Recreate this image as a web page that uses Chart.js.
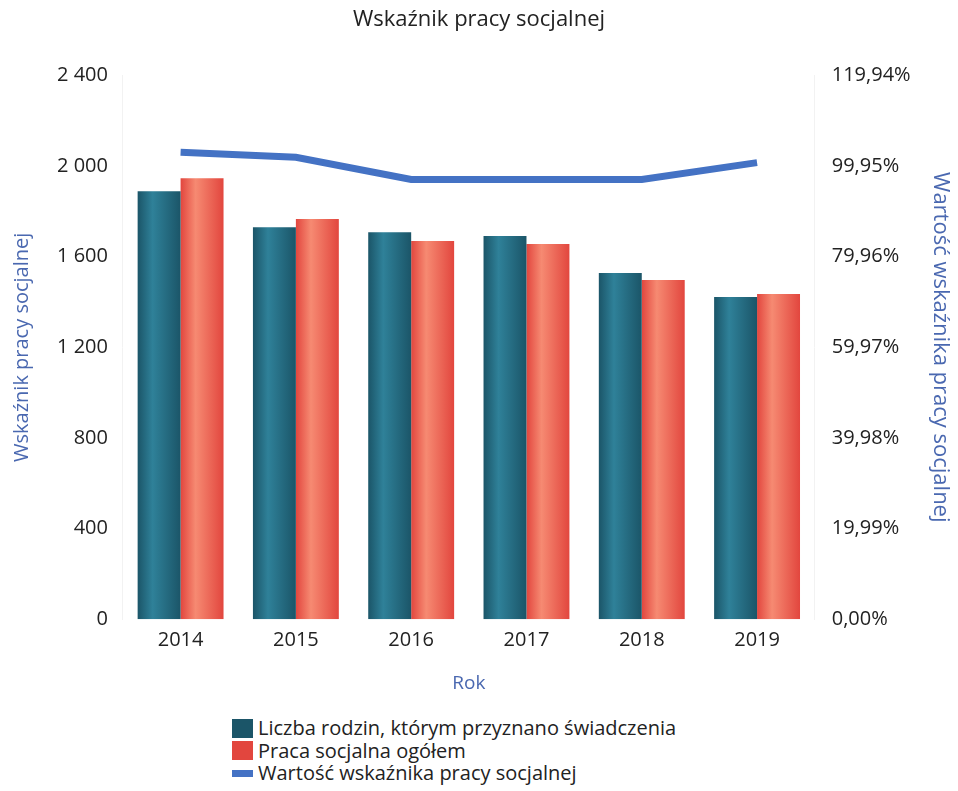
<!DOCTYPE html>
<html>
<head>
<meta charset="utf-8">
<script src="https://cdn.jsdelivr.net/npm/chart.js@4"></script>
<style>
  body { margin: 0; background: #fff; font-family: "Open Sans", sans-serif; }
  #wrap { width: 958px; height: 700px; }
  #legend { margin-left: 232px; margin-top: 17px; font-size: 20px; color: #222; line-height: 22.5px; }
  #legend div { display: flex; align-items: center; }
  #legend span.box { display: inline-block; width: 21px; margin-right: 5px; }
</style>
</head>
<body>
<div id="wrap"><canvas id="chart"></canvas></div>
<div id="legend"></div>
<script>
const years = ["2014", "2015", "2016", "2017", "2018", "2019"];
const rodziny = [1889, 1730, 1708, 1691, 1528, 1422];
const pracaSocjalna = [1946, 1766, 1669, 1656, 1497, 1435];
const wskaznik = [103.0, 101.9, 97.0, 97.0, 97.0, 100.7];

const teal = ["#1b5568", "#2f8199", "#1b5568"];
const red = ["#e2463e", "#f68a72", "#e2463e"];

// cylinder-ish shading on each bar
const barShade = {
  id: "barShade",
  beforeDatasetsDraw(chart) {
    const ctx = chart.ctx;
    chart.data.datasets.forEach((ds, i) => {
      if (ds.type !== "bar") return;
      const meta = chart.getDatasetMeta(i);
      meta.data.forEach((bar) => {
        const x0 = bar.x - bar.width / 2;
        const g = ctx.createLinearGradient(x0, 0, x0 + bar.width, 0);
        g.addColorStop(0, ds.shade[0]);
        g.addColorStop(0.35, ds.shade[1]);
        g.addColorStop(1, ds.shade[2]);
        bar.options = Object.assign({}, bar.options, { backgroundColor: g });
      });
    });
  },
};

const chart = new Chart(document.getElementById("chart"), {
  data: {
    labels: years,
    datasets: [
      {
        type: "line",
        label: "Wartość wskaźnika pracy socjalnej",
        data: wskaznik,
        yAxisID: "y1",
        borderColor: "#4472c4",
        backgroundColor: "#4472c4",
        borderWidth: 7,
        pointRadius: 0,
        tension: 0,
        order: 0,
      },
      {
        type: "bar",
        label: "Liczba rodzin, którym przyznano świadczenia",
        data: rodziny,
        yAxisID: "y",
        backgroundColor: teal[0],
        shade: teal,
        categoryPercentage: 0.745,
        barPercentage: 1,
        order: 1,
      },
      {
        type: "bar",
        label: "Praca socjalna ogółem",
        data: pracaSocjalna,
        yAxisID: "y",
        backgroundColor: red[0],
        shade: red,
        categoryPercentage: 0.745,
        barPercentage: 1,
        order: 1,
      },
    ],
  },
  options: {
    responsive: true,
    maintainAspectRatio: false,
    animation: false,
    layout: { padding: { left: 0, right: 0, top: 0, bottom: 5 } },
    plugins: {
      legend: { display: false },
      tooltip: { enabled: false },
      title: {
        display: true,
        text: "Wskaźnik pracy socjalnej",
        color: "#222",
        font: { family: "Open Sans", size: 22, weight: "normal" },
        padding: { top: 7, bottom: 42 },
      },
    },
    scales: {
      x: {
        grid: { display: false },
        border: { display: false },
        ticks: { color: "#222", font: { family: "Open Sans", size: 20 }, padding: 1 },
        title: {
          display: true,
          text: "Rok",
          color: "#4a68b0",
          font: { family: "Open Sans", size: 19 },
          padding: { top: 19, bottom: 0 },
        },
      },
      y: {
        position: "left",
        min: 0,
        max: 2400,
        grid: { display: false },
        border: { color: "#f2f2f2" },
        ticks: {
          stepSize: 400,
          color: "#222",
          padding: 7,
          font: { family: "Open Sans", size: 20 },
          callback: (v) => String(v).replace(/\B(?=(\d{3})+(?!\d))/g, " "),
        },
        title: {
          display: true,
          text: "Wskaźnik pracy socjalnej",
          color: "#4a68b0",
          font: { family: "Open Sans", size: 20 },
          padding: { top: 10, bottom: 16 },
        },
      },
      y1: {
        position: "right",
        min: 0,
        max: 119.94,
        grid: { display: false },
        border: { color: "#f2f2f2" },
        ticks: {
          stepSize: 19.99,
          color: "#222",
          padding: 9,
          font: { family: "Open Sans", size: 20 },
          callback: (v) => v.toFixed(2).replace(".", ",") + "%",
        },
        title: {
          display: true,
          text: "Wartość wskaźnika pracy socjalnej",
          color: "#4a68b0",
          font: { family: "Open Sans", size: 22 },
          padding: { top: 5, bottom: 7 },
        },
      },
    },
  },
  plugins: [barShade],
});

// HTML legend, stacked like the original
const legendEl = document.getElementById("legend");
[1, 2, 0].forEach((i) => {
  const ds = chart.data.datasets[i];
  const row = document.createElement("div");
  const box = document.createElement("span");
  box.className = "box";
  box.style.height = ds.type === "line" ? "7px" : "19px";
  box.style.background = ds.type === "line" ? ds.borderColor : ds.shade[0];
  row.appendChild(box);
  row.appendChild(document.createTextNode(ds.label));
  legendEl.appendChild(row);
});
</script>
</body>
</html>
